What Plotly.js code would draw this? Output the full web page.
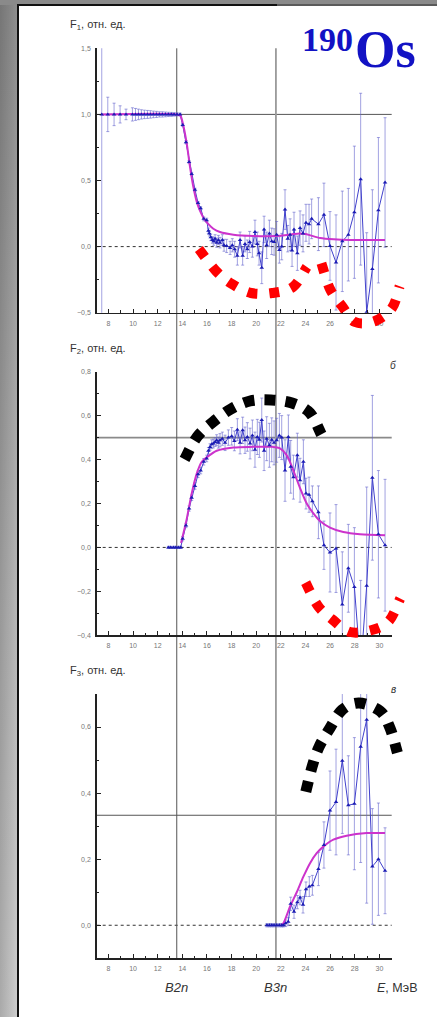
<!DOCTYPE html>
<html>
<head>
<meta charset="utf-8">
<script src="https://cdn.plot.ly/plotly-3.0.1.min.js"></script>
<style>
  html, body { margin: 0; padding: 0; background: #ffffff; }
  #page { position: relative; width: 437px; height: 1017px; overflow: hidden; background: #ffffff; }
  #strip { position: absolute; left: 0; top: 0; width: 18px; height: 1017px;
    background: linear-gradient(to right, rgba(0,0,0,0.18), rgba(0,0,0,0)),
                linear-gradient(to bottom, #8f8f8f, #b9b9b9 60%, #cfcfcf); }
  #edge { position: absolute; left: 17px; top: 4px; width: 2px; height: 1013px; background: #111; }
  #topband { position: absolute; left: 0; top: 0; width: 437px; height: 5px; background: #8a8a8a; }
  #topline { position: absolute; left: 17px; top: 4px; width: 260px; height: 2px; background: #111; }
  #topline2 { position: absolute; left: 277px; top: 4px; width: 160px; height: 2px; background: #5a5a5a; }
  #chart { position: absolute; left: 0; top: 0; width: 437px; height: 1017px; }
</style>
</head>
<body>
<div id="page">
  <div id="strip"></div>
  <div id="topband"></div>
  <div id="topline"></div>
  <div id="topline2"></div>
  <div id="edge"></div>
  <div id="chart"></div>
</div>
<script>
// ---------- F1: one-neutron channel ----------
const E_F1 = [7.46, 7.95, 8.46, 8.95, 9.43, 9.95,
  10.2, 10.44, 10.68, 10.92, 11.17, 11.41, 11.65, 11.9, 12.14, 12.38, 12.63, 12.87, 13.11, 13.33, 13.57,
  13.82, 14.03, 14.3, 14.55, 14.76, 15.03, 15.28, 15.49, 15.74, 15.98,
  16.12, 16.2, 16.31, 16.44, 16.55, 16.66, 16.79, 16.93, 17.06, 17.25, 17.39, 17.6, 17.88,
  18.06, 18.25, 18.47, 18.69, 18.9, 19.09, 19.28, 19.47, 19.69, 19.9,
  20.09, 20.23, 20.45, 20.64, 20.85, 21.07, 21.26, 21.45, 21.66, 21.88,
  22.07, 22.34, 22.56, 22.75, 22.91, 23.07, 23.34, 23.56, 23.8, 24.04, 24.29, 24.5,
  25.05, 25.5, 25.99, 26.48, 26.99, 27.48, 27.97, 28.48, 28.97, 29.43, 29.92, 30.46];
const F1 = [1.0, 1.0, 1.0, 1.0, 1.0, 1.0,
  1.0, 1.0, 1.0, 1.0, 1.0, 1.0, 1.0, 1.0, 1.0, 1.0, 1.0, 1.0, 1.0, 1.0, 1.0,
  1.0, 0.92, 0.79, 0.64, 0.55, 0.43, 0.33, 0.29, 0.21, 0.20,
  0.12, 0.10, 0.07, 0.05, 0.04, 0.06, 0.03, 0.05, 0.03, 0.05, 0.01, 0.005, -0.01,
  0.01, -0.02, -0.07, 0.05, -0.07, 0.02, -0.02, 0.035, 0.0, 0.11,
  0.02, -0.05, -0.16, 0.13, 0.01, 0.10, 0.04, 0.035, 0.09, -0.025,
  0.0, 0.28, 0.06, 0.09, -0.03, 0.13, -0.05, 0.14, 0.10, 0.18, 0.17, 0.21,
  0.17, 0.24, 0.005, -0.12, 0.04, 0.09, 0.26, 0.51, -0.495, -0.17, 0.275, 0.485];
const dF1 = [1.6, 0.13, 0.085, 0.065, 0.04, 0.05,
  0.045, 0.04, 0.035, 0.032, 0.03, 0.028, 0.025, 0.023, 0.02, 0.02, 0.018, 0.016, 0.015, 0.013, 0.012,
  0.01, 0.01, 0.012, 0.012, 0.012, 0.012, 0.012, 0.012, 0.015, 0.015,
  0.02, 0.02, 0.025, 0.025, 0.03, 0.03, 0.035, 0.035, 0.04, 0.04, 0.045, 0.05, 0.05,
  0.05, 0.06, 0.07, 0.06, 0.07, 0.06, 0.07, 0.08, 0.08, 0.09,
  0.09, 0.09, 0.12, 0.10, 0.10, 0.10, 0.10, 0.10, 0.10, 0.10,
  0.10, 0.15, 0.10, 0.12, 0.12, 0.13, 0.13, 0.13, 0.14, 0.14, 0.15, 0.15,
  0.20, 0.24, 0.26, 0.36, 0.38, 0.35, 0.50, 0.65, 0.60, 0.60, 0.55, 0.49];
const fitE1 = [7.46, 13.6, 13.85, 14.05, 14.36, 14.63, 14.9, 15.17, 15.44, 15.77, 16.12, 16.52, 17.06,
  18.15, 19.8, 21.5, 22.5, 23.0, 23.5, 24.0, 24.4, 25.2, 26.3, 27.6, 29.0, 30.46];
const fitF1 = [1.0, 1.0, 0.99, 0.93, 0.78, 0.60, 0.45, 0.34, 0.27, 0.21, 0.17, 0.135, 0.11,
  0.09, 0.08, 0.08, 0.088, 0.095, 0.10, 0.095, 0.085, 0.065, 0.055, 0.05, 0.05, 0.05];

// ---------- F2: two-neutron channel ----------
const E_F2 = [12.87, 13.06, 13.28, 13.47, 13.68, 13.87,
  14.03, 14.3, 14.55, 14.76, 15.03, 15.28, 15.49, 15.74, 15.98,
  16.12, 16.25, 16.39, 16.52, 16.66, 16.79, 16.93, 17.06, 17.25, 17.47, 17.74,
  18.01, 18.23, 18.47, 18.69, 18.9, 19.09, 19.28, 19.5, 19.69, 19.9,
  20.09, 20.26, 20.45, 20.64, 20.85, 21.07, 21.26, 21.45, 21.66, 21.88,
  22.07, 22.34, 22.61, 22.8, 23.02, 23.34, 23.56, 23.83, 24.04, 24.29, 24.56,
  25.05, 25.5, 25.99, 26.48, 26.99, 27.48, 27.97, 28.48, 28.97, 29.43, 29.92, 30.46];
const F2 = [0.0, 0.0, 0.0, 0.0, 0.0, 0.0,
  0.04, 0.10, 0.177, 0.226, 0.28, 0.333, 0.35, 0.39, 0.405,
  0.44, 0.457, 0.47, 0.473, 0.48, 0.488, 0.477, 0.488, 0.495, 0.476, 0.50,
  0.506, 0.485, 0.536, 0.476, 0.533, 0.488, 0.503, 0.473, 0.51, 0.445,
  0.503, 0.49, 0.58, 0.44, 0.495, 0.465, 0.49, 0.476, 0.488, 0.51,
  0.50, 0.35, 0.503, 0.367, 0.32, 0.42, 0.306, 0.39, 0.245, 0.24, 0.21,
  0.16, 0.01, -0.023, -0.005, -0.26, -0.095, -0.18, -0.55, -0.175, 0.317, 0.06, 0.01];
const dF2 = [0.005, 0.005, 0.005, 0.005, 0.005, 0.005,
  0.01, 0.01, 0.012, 0.012, 0.015, 0.015, 0.015, 0.015, 0.015,
  0.015, 0.015, 0.02, 0.02, 0.02, 0.025, 0.025, 0.03, 0.03, 0.035, 0.035,
  0.04, 0.045, 0.05, 0.05, 0.06, 0.06, 0.065, 0.07, 0.07, 0.08,
  0.08, 0.08, 0.10, 0.09, 0.10, 0.10, 0.10, 0.10, 0.10, 0.10,
  0.10, 0.14, 0.10, 0.12, 0.10, 0.10, 0.10, 0.10, 0.07, 0.08, 0.07,
  0.12, 0.11, 0.18, 0.20, 0.24, 0.20, 0.27, 0.40, 0.45, 0.375, 0.29, 0.30];
const fitE2 = [13.9, 14.03, 14.36, 14.76, 15.17, 15.58, 15.98, 16.79, 18.15, 19.77, 21.3, 21.9,
  22.47, 23.02, 23.56, 24.1, 24.64, 25.18, 25.99, 27.07, 28.43, 30.46];
const fitF2 = [0.02, 0.05, 0.13, 0.245, 0.336, 0.39, 0.41, 0.44, 0.455, 0.458, 0.458, 0.452,
  0.42, 0.35, 0.27, 0.20, 0.155, 0.12, 0.09, 0.07, 0.06, 0.056];

// ---------- F3: three-neutron channel ----------
const E_F3 = [20.87, 21.07, 21.26, 21.45, 21.66, 21.88, 22.07, 22.2,
  22.39, 22.6, 22.8, 23.07, 23.34, 23.56, 23.8, 24.04, 24.31, 24.56,
  25.05, 25.5, 25.99, 26.48, 26.99, 27.48, 27.97, 28.48, 28.97, 29.43, 29.92, 30.46];
const F3 = [0.0, 0.0, 0.0, 0.0, 0.0, 0.0, 0.0, 0.0,
  0.006, 0.011, 0.065, 0.041, 0.07, 0.084, 0.062, 0.109, 0.117, 0.121,
  0.17, 0.243, 0.347, 0.373, 0.498, 0.363, 0.368, 0.54, 0.622, 0.178, 0.20, 0.165];
const dF3 = [0.005, 0.005, 0.005, 0.005, 0.005, 0.005, 0.005, 0.005,
  0.01, 0.012, 0.02, 0.02, 0.02, 0.022, 0.025, 0.022, 0.03, 0.03,
  0.05, 0.07, 0.12, 0.16, 0.22, 0.15, 0.20, 0.35, 0.555, 0.175, 0.17, 0.13];
const fitE3 = [22.0, 22.2, 22.75, 23.29, 23.83, 24.37, 24.91, 25.45, 26.26, 27.34, 28.97, 30.46];
const fitF3 = [0.0, 0.006, 0.057, 0.10, 0.147, 0.188, 0.218, 0.238, 0.259, 0.271, 0.279, 0.279];

// separation thresholds (MeV) and reference levels of each panel
const thresholds = [13.55, 21.6];
const thresholdLabels = ['B2n', 'B3n'];
const refLevels = [1.0, 0.5, 0.333];
const yRanges = [[-0.5, 1.5], [-0.4, 0.8], [-0.1, 0.7]];
const yMajor = [0.5, 0.2, 0.2];
const yMinor = [0.25, 0.1, 0.1];
const panelTitles = ['F<sub>1</sub>, отн. ед.', 'F<sub>2</sub>, отн. ед.', 'F<sub>3</sub>, отн. ед.'];
const panelLetters = ['', 'б', 'в'];

// ---------- page geometry (pixels) ----------
const W = 437, H = 1017;
const px = x => x / W;
const py = y => 1 - y / H;
const plotLeft = 96.7, plotRight = 391.7;
const panelsPx = [[48.3, 312.7], [371.7, 635.3], [694, 958.3]];   // [top, bottom]
const titleY = [25.2, 348.8, 671.4];
const letterY = [0, 365, 689.3];
const SANS = 'Liberation Sans, Arial, sans-serif';

const series = [
  {E: E_F1, F: F1, dF: dF1, fE: fitE1, fF: fitF1},
  {E: E_F2, F: F2, dF: dF2, fE: fitE2, fF: fitF2},
  {E: E_F3, F: F3, dF: dF3, fE: fitE3, fF: fitF3}
];

const traces = [];
const layout = {
  width: W, height: H,
  margin: {l: 0, r: 0, t: 0, b: 0, pad: 0},
  paper_bgcolor: 'rgba(0,0,0,0)',
  plot_bgcolor: 'rgba(0,0,0,0)',
  showlegend: false,
  hovermode: false,
  separators: ', ',
  font: {family: SANS},
  shapes: [],
  annotations: []
};

series.forEach((s, i) => {
  const k = i === 0 ? '' : String(i + 1);
  const xa = 'x' + k, ya = 'y' + k;
  // data line with error bars
  traces.push({
    x: s.E, y: s.F, xaxis: xa, yaxis: ya, mode: 'lines',
    line: {color: '#4040cc', width: 1},
    error_y: {type: 'data', array: s.dF, visible: true,
      color: 'rgba(100,100,205,0.6)', thickness: 1, width: 1.5}
  });
  // fitted curve
  traces.push({
    x: s.fE, y: s.fF, xaxis: xa, yaxis: ya, mode: 'lines',
    line: {color: '#cc33cc', width: 2, shape: 'spline', smoothing: 0.8}
  });
  // markers on top
  traces.push({
    x: s.E, y: s.F, xaxis: xa, yaxis: ya, mode: 'markers',
    marker: {symbol: 'triangle-up', size: 4, color: '#1c1cb4'}
  });

  const [top, bottom] = panelsPx[i];
  layout['xaxis' + k] = {
    domain: [px(plotLeft), px(plotRight)], range: [7.05, 31], anchor: ya,
    tick0: 0, dtick: 2, ticks: 'inside', ticklen: 4, tickwidth: 1, tickcolor: '#222',
    minor: {dtick: 1, ticks: 'inside', ticklen: 2.5, tickwidth: 1, tickcolor: '#222'},
    showline: true, linecolor: '#222', linewidth: 1.5,
    showgrid: false, zeroline: false,
    tickfont: {family: SANS, size: 7, color: '#777'}, ticklabelstandoff: 3
  };
  layout['yaxis' + k] = {
    domain: [py(bottom), py(top)], range: yRanges[i], anchor: xa,
    tick0: 0, dtick: yMajor[i], tickformat: '.1f',
    ticks: 'inside', ticklen: 4, tickwidth: 1, tickcolor: '#222',
    minor: {dtick: yMinor[i], ticks: 'inside', ticklen: 2.5, tickwidth: 1, tickcolor: '#222'},
    showline: true, linecolor: '#222', linewidth: 1.5,
    showgrid: false, zeroline: false,
    tickfont: {family: SANS, size: 7, color: '#777'}, ticklabelstandoff: 3
  };

  // reference level and dotted zero line
  layout.shapes.push({type: 'line', xref: xa + ' domain', yref: ya, x0: 0, x1: 1,
    y0: refLevels[i], y1: refLevels[i], layer: 'below',
    line: {color: i === 1 ? '#8a8a8a' : '#555', width: i === 1 ? 1.6 : 1}});
  layout.shapes.push({type: 'line', xref: xa + ' domain', yref: ya, x0: 0, x1: 1,
    y0: 0, y1: 0, layer: 'below', line: {color: '#333', width: 1, dash: 'dot'}});

  layout.annotations.push({text: panelTitles[i], xref: 'paper', yref: 'paper',
    x: px(68), y: py(titleY[i]), xanchor: 'left', yanchor: 'middle', showarrow: false,
    font: {family: SANS, size: 11, color: '#333'}});
  if (panelLetters[i]) {
    layout.annotations.push({text: '<i>' + panelLetters[i] + '</i>', xref: 'paper', yref: 'paper',
      x: px(393.3), y: py(letterY[i]), xanchor: 'center', yanchor: 'middle', showarrow: false,
      font: {family: SANS, size: 10, color: '#333'}});
  }
});

// vertical threshold lines through all three panels
thresholds.forEach((e, j) => {
  layout.shapes.push({type: 'line', xref: 'x', yref: 'paper', x0: e, x1: e,
    y0: py(panelsPx[2][1]), y1: py(panelsPx[0][0]), layer: 'below',
    line: {color: j === 0 ? '#555' : '#9a9a9a', width: j === 0 ? 1 : 1.8}});
  layout.annotations.push({text: '<i>' + thresholdLabels[j] + '</i>', xref: 'x3', yref: 'paper',
    x: e, y: py(987.5), xanchor: 'center', yanchor: 'middle', showarrow: false,
    font: {family: SANS, size: 13, color: '#333'}});
});
layout.annotations.push({text: '<i>E</i>, МэВ', xref: 'paper', yref: 'paper',
  x: px(397.7), y: py(987.5), xanchor: 'center', yanchor: 'middle', showarrow: false,
  font: {family: SANS, size: 12.5, color: '#333'}});

// nucleus label
layout.annotations.push({text: '<b>190</b>', xref: 'paper', yref: 'paper',
  x: px(355), y: py(40), xanchor: 'right', yanchor: 'middle', showarrow: false,
  font: {family: 'Liberation Serif, Times New Roman, serif', size: 34, color: '#1212c4'}});
layout.annotations.push({text: '<b>Os</b>', xref: 'paper', yref: 'paper',
  x: px(353), y: py(50), xanchor: 'left', yanchor: 'middle', showarrow: false,
  font: {family: 'Liberation Serif, Times New Roman, serif', size: 52, color: '#1212c4'}});

// thick dashed highlight arcs (pixel centres of the dashes)
function smoothPath(pts) {
  const p = pts.slice();
  const ext = (a, b, d) => {
    const dx = a[0] - b[0], dy = a[1] - b[1], L = Math.hypot(dx, dy);
    return [a[0] + dx / L * d, a[1] + dy / L * d];
  };
  p[0] = ext(p[0], p[1], 5);
  p[p.length - 1] = ext(p[p.length - 1], p[p.length - 2], 5);
  const P = i => p[Math.max(0, Math.min(p.length - 1, i))];
  const f = q => px(q[0]).toFixed(5) + ',' + py(q[1]).toFixed(5);
  let d = 'M' + f(p[0]);
  for (let i = 0; i < p.length - 1; i++) {
    const p0 = P(i - 1), p1 = P(i), p2 = P(i + 1), p3 = P(i + 2);
    const c1 = [p1[0] + (p2[0] - p0[0]) / 6, p1[1] + (p2[1] - p0[1]) / 6];
    const c2 = [p2[0] - (p3[0] - p1[0]) / 6, p2[1] - (p3[1] - p1[1]) / 6];
    d += ' C' + f(c1) + ' ' + f(c2) + ' ' + f(p2);
  }
  return d;
}
const arcs = [
  {c: '#ff0000', w: 10, dash: '10px,12px', pts: [[202,253],[216,271],[232,284],[251,293],[272,293],[293,287],[304,271]]},
  {c: '#ff0000', w: 10, dash: '10px,12px', pts: [[323,268],[330,289],[342,306],[355,322],[375,321],[392,308],[398,291]]},
  {c: '#000000', w: 11, dash: '11px,10px', pts: [[187,455],[197,437],[213,422],[231,409],[250,401],[271,400],[292,403],[310,413],[319,430]]},
  {c: '#ff0000', w: 10, dash: '10px,12px', pts: [[308,587],[318,606],[333,620],[350,632],[372,630],[389,621],[398,603]]},
  {c: '#000000', w: 11, dash: '11px,10px', pts: [[307,787],[312,767],[319,747],[330,728],[342,710],[359,703],[380,711],[390,728],[396,748]]}
];
arcs.forEach(a => {
  layout.shapes.push({type: 'path', xref: 'paper', yref: 'paper', path: smoothPath(a.pts),
    layer: 'above', line: {color: a.c, width: a.w, dash: a.dash}});
});

Plotly.newPlot('chart', traces, layout, {displayModeBar: false, staticPlot: true});
</script>
</body>
</html>
